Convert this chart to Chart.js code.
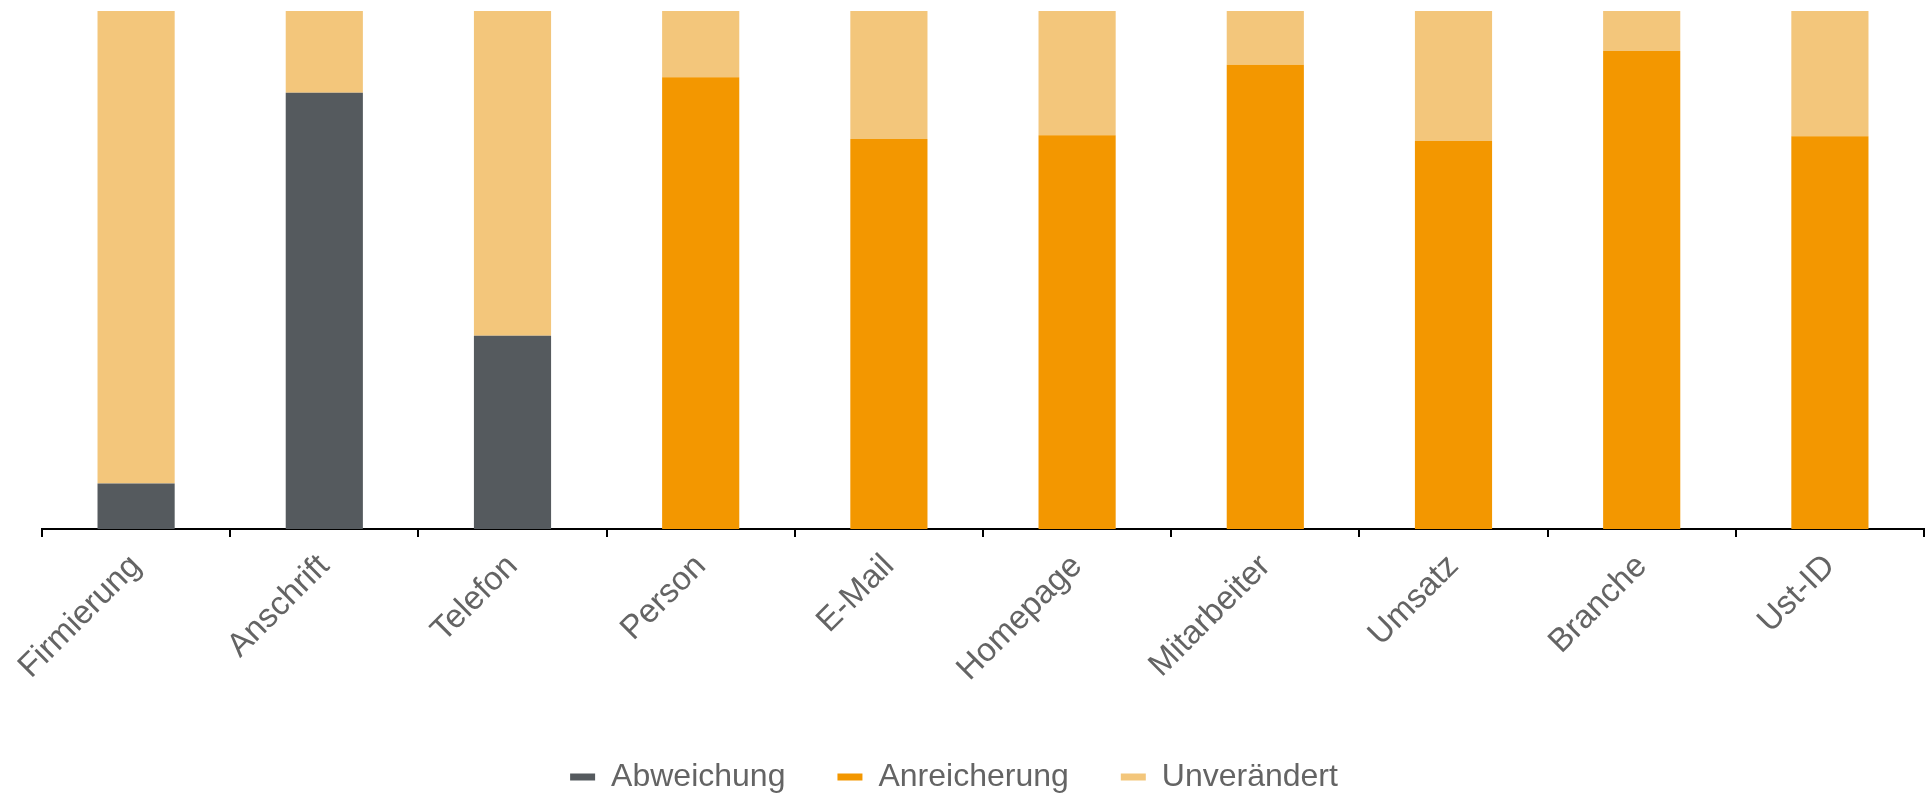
<!DOCTYPE html>
<html>
<head>
<meta charset="utf-8">
<script src="https://cdn.jsdelivr.net/npm/chart.js@4"></script>
<style>
  body { margin: 0; background: #fff; }
  #wrap { width: 1927px; height: 793px; position: relative; }
</style>
</head>
<body>
<div id="wrap"><canvas id="barChartCanvas"></canvas></div>
<script>
// categories and values (percent of records)
var categories = ['Firmierung', 'Anschrift', 'Telefon', 'Person', 'E-Mail', 'Homepage', 'Mitarbeiter', 'Umsatz', 'Branche', 'Ust-ID'];
var abweichung = [8.8, 84.2, 37.3, 0, 0, 0, 0, 0, 0, 0];
var anreicherung = [0, 0, 0, 87.2, 75.3, 76.0, 89.6, 74.9, 92.3, 75.8];
var unveraendert = [91.2, 15.8, 62.7, 12.8, 24.7, 24.0, 10.4, 25.1, 7.7, 24.2];

var textColor = '#646464';
var fontFamily = 'Liberation Sans, Arial, sans-serif';

// legend sits a bit left of the plot centre in the original
var legendShift = {
  id: 'legendShift',
  afterLayout: function (chart) {
    if (chart.legend) {
      chart.legend.left -= 29;
      chart.legend.right -= 29;
    }
  }
};

var ctx = document.getElementById('barChartCanvas').getContext('2d');
var barChart = new Chart(ctx, {
  type: 'bar',
  data: {
    labels: categories,
    datasets: [{
      label: 'Abweichung',
      data: abweichung,
      backgroundColor: '#555a5e'
    },
    {
      label: 'Anreicherung',
      data: anreicherung,
      backgroundColor: '#f39700'
    },
    {
      label: 'Unverändert',
      data: unveraendert,
      backgroundColor: '#f3c67b'
    }]
  },
  plugins: [legendShift],
  options: {
    responsive: true,
    maintainAspectRatio: false,
    animation: false,
    categoryPercentage: 0.82,
    barPercentage: 0.5,
    layout: {
      padding: { left: 42, right: 3, top: 11, bottom: -10 }
    },
    plugins: {
      tooltip: { enabled: false },
      legend: {
        position: 'bottom',
        labels: {
          color: textColor,
          font: { family: fontFamily, size: 32 },
          boxWidth: 25,
          boxHeight: 7,
          padding: 52
        }
      }
    },
    scales: {
      x: {
        stacked: true,
        afterFit: function (scale) {
          scale.height = 180; // leave room between labels and legend
        },
        border: { display: true, color: '#000', width: 2 },
        grid: {
          display: true,
          offset: true,
          drawOnChartArea: false,
          drawTicks: true,
          tickLength: 8,
          color: '#000',
          lineWidth: 2
        },
        ticks: {
          color: textColor,
          font: { family: fontFamily, size: 33 },
          maxRotation: 45,
          minRotation: 45,
          padding: 10
        }
      },
      y: {
        stacked: true,
        display: false,
        beginAtZero: true,
        max: 100
      }
    }
  }
});
</script>
</body>
</html>
